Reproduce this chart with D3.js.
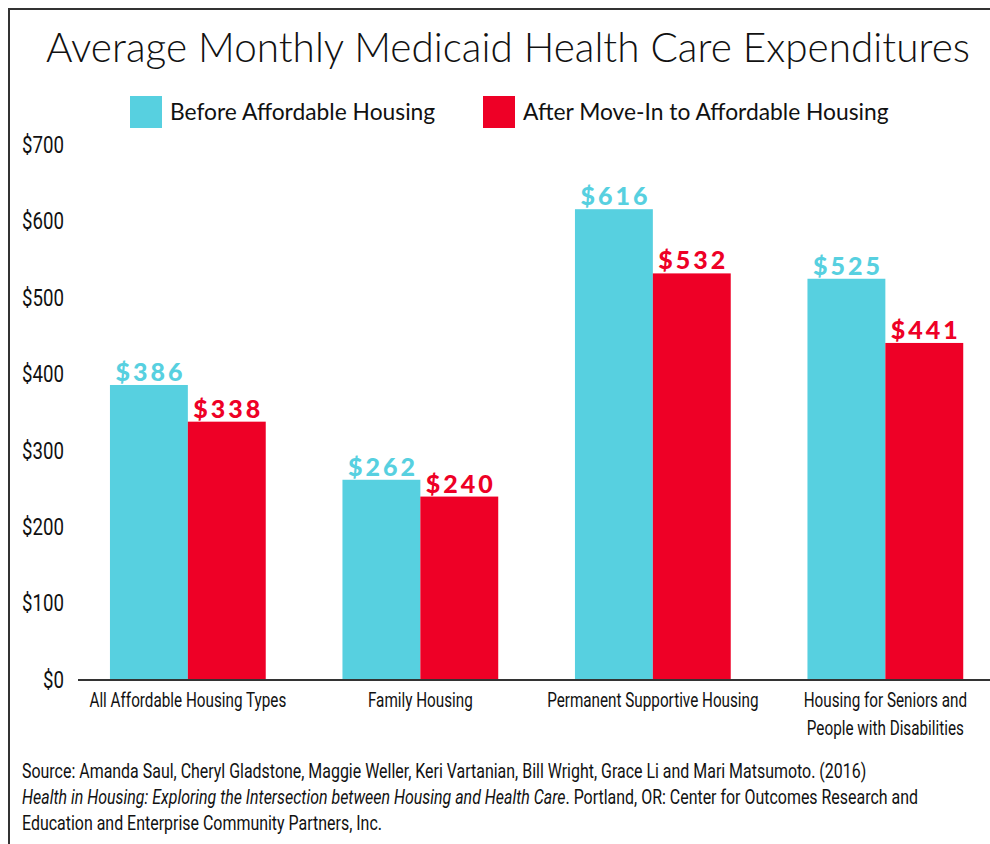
<!DOCTYPE html>
<html>
<head>
<meta charset="utf-8">
<script src="https://cdn.jsdelivr.net/npm/d3@7"></script>
<style>
  body { margin: 0; background: #fff; }
  .narrow { font-family: "Roboto", "Noto Sans", sans-serif; fill: #111; }
  .title { font-family: "Lato", "Noto Sans", sans-serif; font-weight: 300; fill: #111; }
  .legendText { font-family: "Lato", "Noto Sans", sans-serif; font-weight: 400; fill: #111; }
  .valueText { font-family: "Lato", "Open Sans", sans-serif; font-weight: 900; }
</style>
</head>
<body>
<div id="chart"></div>
<script>
// chart data
var categories = [
  ["All Affordable Housing Types"],
  ["Family Housing"],
  ["Permanent Supportive Housing"],
  ["Housing for Seniors and", "People with Disabilities"]
];
var seriesNames = ["Before Affordable Housing", "After Move-In to Affordable Housing"];
var beforeValues = [386, 262, 616, 525];
var afterValues = [338, 240, 532, 441];
var yTicks = [0, 100, 200, 300, 400, 500, 600, 700];
var sourceLines = [
  "Source: Amanda Saul, Cheryl Gladstone, Maggie Weller, Keri Vartanian, Bill Wright, Grace Li and Mari Matsumoto. (2016)",
  "Health in Housing: Exploring the Intersection between Housing and Health Care",
  ". Portland, OR: Center for Outcomes Research and",
  "Education and Enterprise Community Partners, Inc."
];

var colors = ["#57d0e0", "#ee0026"];

var svgWidth = 990, svgHeight = 844;

var svg = d3.select("#chart").append("svg")
  .attr("width", svgWidth)
  .attr("height", svgHeight);

// the reference uses a condensed face; squeeze Roboto horizontally
function squeezeRatio(size, sample, target) {
  var t = svg.append("text").attr("class", "narrow").attr("font-size", size).text(sample);
  var w = t.node().getComputedTextLength();
  t.remove();
  return target / w;
}

// frame
svg.append("path")
  .attr("d", "M9,846 L9,9 L992,9")
  .attr("fill", "none")
  .attr("stroke", "#333")
  .attr("stroke-width", 2);

// title
svg.append("text")
  .attr("class", "title")
  .attr("x", 508)
  .attr("y", 62)
  .attr("text-anchor", "middle")
  .attr("font-size", 40.5)
  .text("Average Monthly Medicaid Health Care Expenditures");

// legend
var legendX = [130, 483];
var legend = svg.selectAll("g.legend")
  .data(seriesNames)
  .enter()
  .append("g")
  .attr("class", "legend")
  .attr("transform", (d, i) => `translate(${legendX[i]}, 96)`);

legend.append("rect")
  .attr("width", 32)
  .attr("height", 32)
  .attr("fill", (d, i) => colors[i]);

legend.append("text")
  .attr("class", "legendText")
  .attr("x", 40)
  .attr("y", 24)
  .attr("font-size", 22.8)
  .text(d => d);

// scales
var yScale = d3.scaleLinear()
  .domain([0, 700])
  .range([680, 145]);

var xScale = d3.scaleBand()
  .domain(d3.range(categories.length))
  .range([71.6, 1001.6])
  .paddingInner(0.33)
  .paddingOuter(0.165);

var xInner = d3.scaleBand()
  .domain([0, 1])
  .range([0, xScale.bandwidth()]);

// y axis labels
var tickRatio = squeezeRatio(23, "$700", 42);
var yAxis = d3.axisLeft(yScale)
  .tickValues(yTicks)
  .tickSize(0)
  .tickPadding(0)
  .tickFormat(d => "$" + d);

var yAxisG = svg.append("g")
  .attr("transform", "translate(64, 0)")
  .call(yAxis);
yAxisG.select(".domain").remove();
yAxisG.selectAll("text")
  .attr("class", "narrow")
  .attr("font-size", 23)
  .attr("fill", "#111")
  .attr("transform", `scale(${tickRatio}, 1)`);

// bars
var groups = svg.selectAll("g.group")
  .data(categories)
  .enter()
  .append("g")
  .attr("class", "group")
  .attr("transform", (d, i) => `translate(${xScale(i)}, 0)`);

groups.each(function (d, i) {
  var g = d3.select(this);
  var vals = [beforeValues[i], afterValues[i]];
  g.selectAll("rect")
    .data(vals)
    .enter()
    .append("rect")
    .attr("x", (v, j) => xInner(j))
    .attr("y", v => yScale(v))
    .attr("width", xInner.bandwidth())
    .attr("height", v => yScale(0) - yScale(v))
    .attr("fill", (v, j) => colors[j]);

  g.selectAll("text.valueText")
    .data(vals)
    .enter()
    .append("text")
    .attr("class", "valueText")
    .attr("x", (v, j) => xInner(j) + xInner.bandwidth() / 2 + 1.5)
    .attr("y", v => yScale(v) - 4)
    .attr("text-anchor", "middle")
    .attr("font-size", 25)
    .attr("letter-spacing", 3)
    .attr("fill", (v, j) => colors[j])
    .text(v => "$" + v);
});

// baseline
svg.append("line")
  .attr("x1", 78)
  .attr("x2", 990)
  .attr("y1", yScale(0))
  .attr("y2", yScale(0))
  .attr("stroke", "#333")
  .attr("stroke-width", 2);

// x labels
var labelRatio = squeezeRatio(21, categories[0][0], 197);
svg.selectAll("g.xlabel")
  .data(categories)
  .enter()
  .append("g")
  .attr("class", "xlabel")
  .attr("transform", (d, i) => `translate(${xScale(i) + xScale.bandwidth() / 2}, 0) scale(${labelRatio}, 1)`)
  .append("text")
  .attr("class", "narrow")
  .attr("text-anchor", "middle")
  .attr("font-size", 21)
  .each(function (lines) {
    var t = d3.select(this);
    lines.forEach(function (line, k) {
      t.append("tspan")
        .attr("x", 0)
        .attr("y", 707 + k * 28)
        .text(line);
    });
  });

// source note
var sourceRatio = squeezeRatio(20, sourceLines[0], 845);
var source = svg.append("g")
  .attr("transform", `translate(22, 0) scale(${sourceRatio}, 1)`)
  .append("text")
  .attr("class", "narrow")
  .attr("font-size", 20);

source.append("tspan")
  .attr("x", 0).attr("y", 778)
  .text(sourceLines[0]);
source.append("tspan")
  .attr("x", 0).attr("y", 804)
  .attr("font-style", "italic")
  .text(sourceLines[1]);
source.append("tspan")
  .text(sourceLines[2]);
source.append("tspan")
  .attr("x", 0).attr("y", 830)
  .text(sourceLines[3]);
</script>
</body>
</html>
